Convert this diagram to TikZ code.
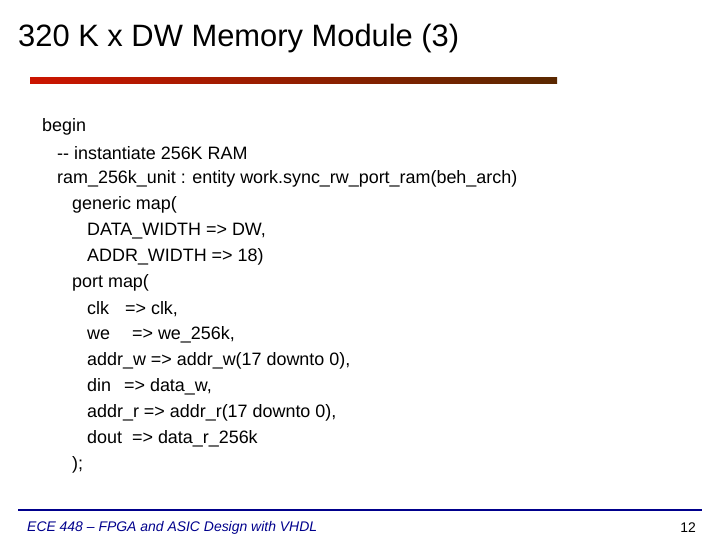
\documentclass[tikz,border=0pt]{standalone}
\usepackage{fontspec}
\setmainfont{Liberation Sans}
\definecolor{barleft}{RGB}{204,20,0}
\definecolor{barright}{RGB}{90,40,0}
\definecolor{footblue}{RGB}{0,0,140}
\tikzset{code/.style={anchor=west, inner sep=0pt, font=\fontsize{18}{20}\selectfont}}
\begin{document}
\begin{tikzpicture}[x=1bp,y=-1bp]
\useasboundingbox (0,0) rectangle (720,540);
\node (title) [anchor=west, inner sep=0pt, font=\fontsize{31}{34}\selectfont] at (18,39) {320 K x DW Memory Module (3)};
\shade[left color=barleft, right color=barright] (30,78) rectangle (557,84);
\node (l1) [code] at (42,127) {begin};
\node (l2) [code] at (57,153) {-{}- instantiate 256K RAM};
\node (l3) [code] at (57,179) {ram\_256k\_unit : entity work.sync\_rw\_port\_ram(beh\_arch)};
\node (l4) [code] at (72,205) {generic map(};
\node (l5) [code] at (87,231) {DATA\_WIDTH => DW,};
\node (l6) [code] at (87,257) {ADDR\_WIDTH => 18)};
\node (l7) [code] at (72,283) {port map(};
\node (l8) [code] at (87,309) {clk\hspace{16bp}=> clk,};
\node (l9) [code] at (87,335) {we\hspace{22bp}=> we\_256k,};
\node (l10) [code] at (87,361) {addr\_w => addr\_w(17 downto 0),};
\node (l11) [code] at (87,387) {din\hspace{13bp}=> data\_w,};
\node (l12) [code] at (87,413) {addr\_r => addr\_r(17 downto 0),};
\node (l13) [code] at (87,439) {dout\hspace{10bp}=> data\_r\_256k};
\node (l14) [code] at (72,465) {);};
\draw[footblue, line width=2bp] (18,510) -- (702,510);
\node (foot) [anchor=west, inner sep=0pt, text=footblue, font=\fontsize{14}{16}\selectfont\itshape] at (27,528) {ECE 448 -- FPGA and ASIC Design with VHDL};
\node (page) [anchor=east, inner sep=0pt, font=\fontsize{14}{16}\selectfont] at (696,528) {12};
\end{tikzpicture}
\end{document}
